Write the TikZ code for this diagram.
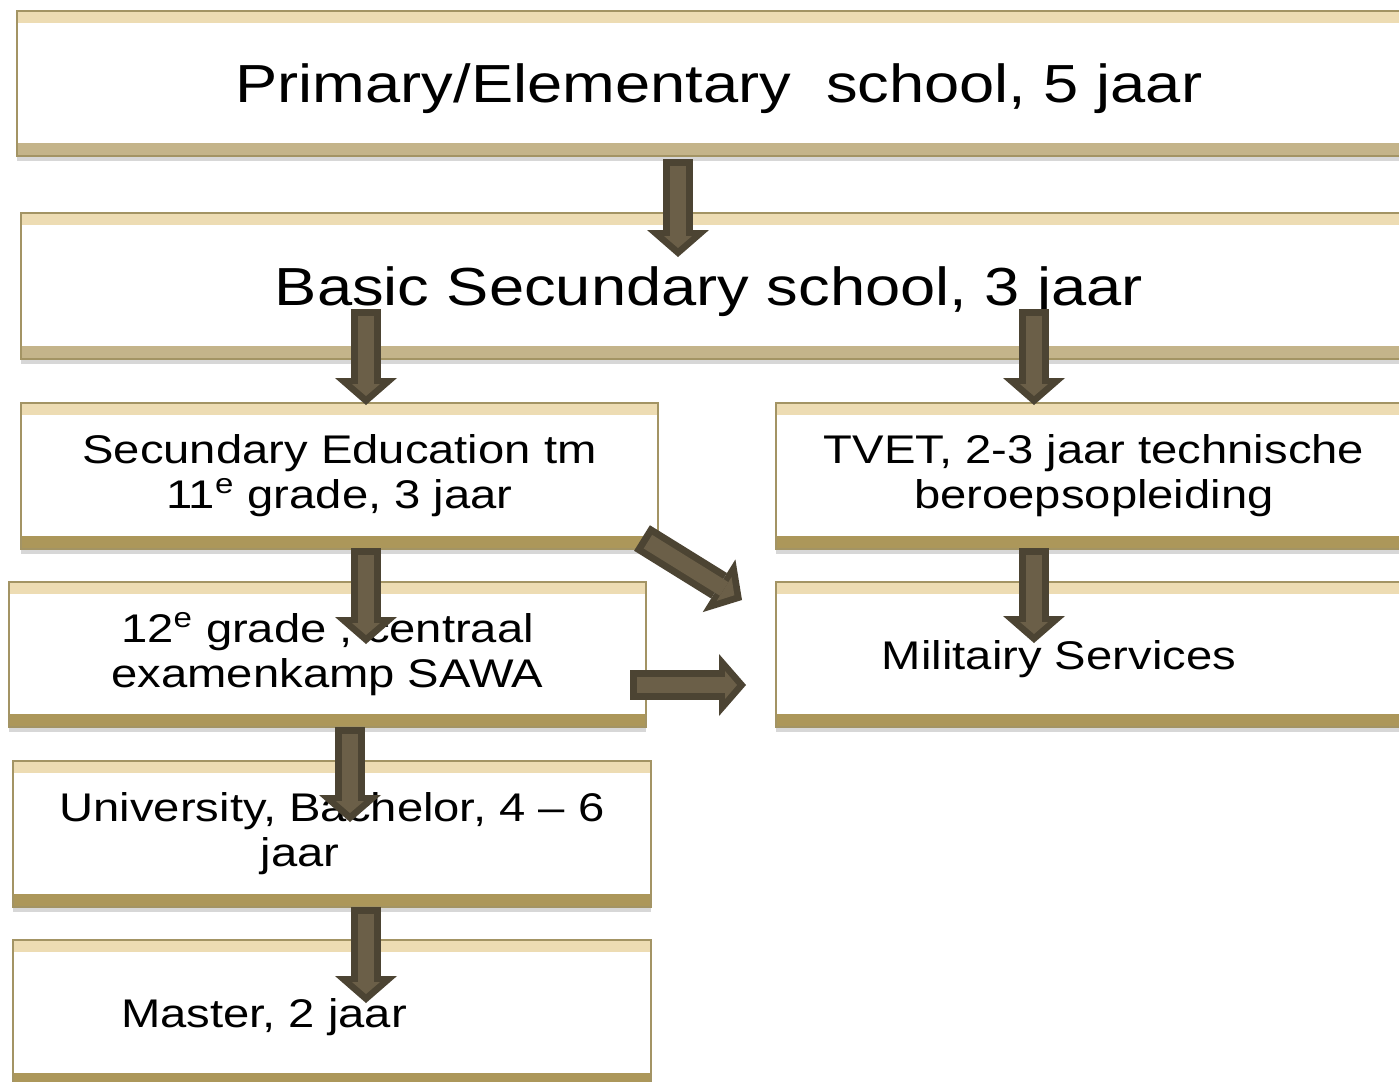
\documentclass[tikz,border=0pt]{standalone}
\usepackage{fontspec}
\setmainfont{Liberation Sans}[FakeStretch=1.18]
\usepackage{tikz}
\usetikzlibrary{arrows.meta, shadows}

\definecolor{bandtop}{HTML}{EDDCB3}
\definecolor{bandpale}{HTML}{C4B48A}
\definecolor{banddark}{HTML}{AC975A}
\definecolor{boxedge}{HTML}{A39464}
\definecolor{arrowfill}{HTML}{6B5F48}
\definecolor{arrowedge}{HTML}{4C4433}

\newcommand{\bigtxt}{\fontsize{26.8}{32}\selectfont}
\newcommand{\smalltxt}{\fontsize{20}{22.5}\selectfont}

\begin{document}
\begin{tikzpicture}[
    x=0.5pt, y=-0.5pt,
    level/.style={rectangle, draw=boxedge, line width=1pt, fill=white,
                  anchor=north west, inner sep=0pt, align=center,
                  drop shadow={shadow xshift=0pt, shadow yshift=-2.5pt,
                               opacity=0.22, fill=black!70},
                  path picture={
                    \fill[bandtop] (path picture bounding box.north west)
                        rectangle ([yshift=-6pt]path picture bounding box.north east);
                    \fill[#1] (path picture bounding box.south west)
                        rectangle ([yshift=6.5pt]path picture bounding box.south east);}},
    level/.default=banddark,
    wide/.style={minimum width=702pt, minimum height=72.5pt, font=\bigtxt},
    half/.style={minimum width=318.5pt, minimum height=73pt, font=\smalltxt},
    oneline/.style={text depth=0pt},
    blockarr/.style={draw=arrowedge, line width=15pt,
                     -{Triangle[width=31pt, length=13.5pt, line width=0pt]},
                     postaction={draw=arrowfill, line width=8pt,
                                 -{Triangle[width=14pt, length=6pt, line width=0pt]},
                                 shorten <=3.5pt, shorten >=4.5pt}},
]

\fill[white] (0,0) rectangle (1399,1082);
\useasboundingbox (0,0) rectangle (1399,1082);
\clip (0,0) rectangle (1399,1082);

% Top two levels (full width)
\node[level=bandpale, wide, oneline] (prim) at (16,10)
    {Primary/Elementary \ school, 5 jaar};
\node[level=bandpale, wide, oneline, minimum height=73pt] (basic) at (20,212)
    {Basic Secundary school, 3 jaar\hspace*{14pt}};

% Left column
\node[level, half] (sec) at (20,402)
    {Secundary Education tm\\11\textsuperscript{e} grade, 3 jaar};
\node[level, half, minimum height=72.5pt] (grade) at (8,581)
    {12\textsuperscript{e} grade , centraal\\examenkamp SAWA};
\node[level, half, minimum width=319pt] (univ) at (12,760)
    {University, Bachelor, 4 -- 6\\jaar\hspace*{32pt}};
\node[level, half, oneline, minimum width=319pt] (master) at (12,939)
    {Master, 2 jaar\hspace*{68pt}};

% Right column
\node[level, half, minimum width=318pt] (tvet) at (775,402)
    {TVET, 2-3 jaar technische\\beroepsopleiding};
\node[level, half, oneline, minimum width=318pt, minimum height=72.5pt] (mil) at (775,581)
    {Militairy Services\hspace*{35pt}};

% Arrow ends
\coordinate (a1s) at (678,159);  \coordinate (a1e) at (678,257);
\coordinate (a2s) at (366,309);  \coordinate (a2e) at (366,405);
\coordinate (a3s) at (1034,309); \coordinate (a3e) at (1034,405);
\coordinate (a4s) at (366,548);  \coordinate (a4e) at (366,644);
\coordinate (a5s) at (642,538);  \coordinate (a5e) at (742,600);
\coordinate (a6s) at (630,685);  \coordinate (a6e) at (746,685);
\coordinate (a7s) at (1034,548); \coordinate (a7e) at (1034,643);
\coordinate (a8s) at (350,727);  \coordinate (a8e) at (350,822);
\coordinate (a9s) at (366,907);  \coordinate (a9e) at (366,1003);

% Block arrows
\draw[blockarr] (a1s) -- (a1e);
\draw[blockarr] (a2s) -- (a2e);
\draw[blockarr] (a3s) -- (a3e);
\draw[blockarr] (a4s) -- (a4e);
\draw[blockarr] (a5s) -- (a5e);
\draw[blockarr] (a6s) -- (a6e);
\draw[blockarr] (a7s) -- (a7e);
\draw[blockarr] (a8s) -- (a8e);
\draw[blockarr] (a9s) -- (a9e);

\end{tikzpicture}
\end{document}
